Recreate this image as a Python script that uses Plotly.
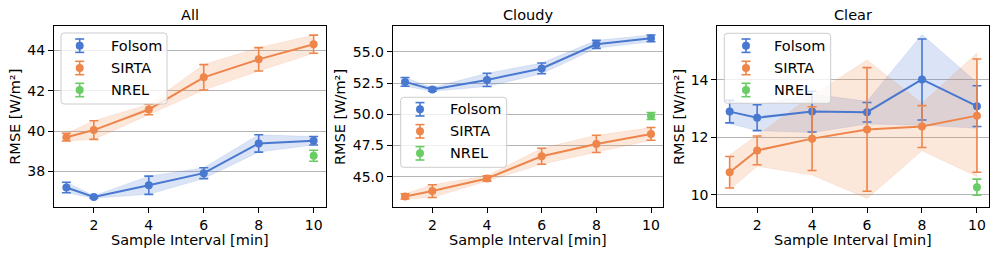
import plotly.graph_objects as go

W, H = 997, 257

intervals = [1, 2, 4, 6, 8, 10]
panel_titles = ["All", "Cloudy", "Clear"]
series_names = ["Folsom", "SIRTA", "NREL"]

# All
folsom_all = [37.21, 36.74, 37.32, 37.92, 39.39, 39.52]
folsom_all_err = [0.26, 0.06, 0.45, 0.27, 0.43, 0.21]
sirta_all = [39.70, 40.05, 41.07, 42.66, 43.55, 44.30]
sirta_all_err = [0.19, 0.46, 0.26, 0.63, 0.58, 0.45]
nrel_all = [38.78]
nrel_all_err = [0.27]

# Cloudy
folsom_cloudy = [52.60, 52.00, 52.76, 53.68, 55.61, 56.09]
folsom_cloudy_err = [0.35, 0.15, 0.53, 0.43, 0.32, 0.27]
sirta_cloudy = [43.42, 43.85, 44.86, 46.64, 47.63, 48.43]
sirta_cloudy_err = [0.21, 0.51, 0.21, 0.64, 0.69, 0.51]
nrel_cloudy = [49.87]
nrel_cloudy_err = [0.28]

# Clear
folsom_clear = [12.89, 12.68, 12.89, 12.87, 14.01, 13.08]
folsom_clear_err = [0.39, 0.45, 0.71, 0.34, 1.41, 0.71]
folsom_clear_band_lo = [12.47, 12.23, 12.16, 12.46, 12.42, 12.31]
folsom_clear_band_hi = [13.29, 13.12, 13.50, 13.25, 15.57, 13.90]
sirta_clear = [10.78, 11.54, 11.95, 12.27, 12.37, 12.75]
sirta_clear_err = [0.55, 0.50, 1.11, 2.15, 0.73, 1.97]
sirta_clear_band_lo = [10.16, 10.99, 10.68, 9.87, 11.53, 10.63]
sirta_clear_band_hi = [11.38, 12.07, 13.45, 14.69, 13.18, 14.93]
nrel_clear = [10.26]
nrel_clear_err = [0.28]
nrel_x = [10]

y_ticks = [[38, 40, 42, 44], [45.0, 47.5, 50.0, 52.5, 55.0], [10, 12, 14]]
y_ticktext = [["38", "40", "42", "44"], ["45.0", "47.5", "50.0", "52.5", "55.0"], ["10", "12", "14"]]
x_ticks = [2, 4, 6, 8, 10]

BLUE = "#4878d0"
ORANGE = "#ee854a"
GREEN = "#6acc64"
BLUE_F = "rgba(72,120,208,0.2)"
ORANGE_F = "rgba(238,133,74,0.2)"
FONT = "DejaVu Sans"
FS = 14
FSL = 14.5

panels = [
    dict(f=folsom_all, fe=folsom_all_err, s=sirta_all, se=sirta_all_err, n=nrel_all, ne=nrel_all_err,
         fb=None, sb=None, yr=[36.23, 45.2]),
    dict(f=folsom_cloudy, fe=folsom_cloudy_err, s=sirta_cloudy, se=sirta_cloudy_err, n=nrel_cloudy, ne=nrel_cloudy_err,
         fb=None, sb=None, yr=[42.55, 57.08]),
    dict(f=folsom_clear, fe=folsom_clear_err, s=sirta_clear, se=sirta_clear_err, n=nrel_clear, ne=nrel_clear_err,
         fb=(folsom_clear_band_lo, folsom_clear_band_hi), sb=(sirta_clear_band_lo, sirta_clear_band_hi), yr=[9.56, 15.87]),
]

xdom = [[54 / W, 326 / W], [392.7 / W, 663.3 / W], [717.3 / W, 989.3 / W]]
ydom = [1 - 207.3 / H, 1 - 26 / H]

fig = go.Figure()


def band(vals, errs, bandspec):
    if bandspec is None:
        lo = [v - e for v, e in zip(vals, errs)]
        hi = [v + e for v, e in zip(vals, errs)]
    else:
        lo, hi = bandspec
    return lo, hi


for i, p in enumerate(panels):
    xa = "x" if i == 0 else f"x{i+1}"
    ya = "y" if i == 0 else f"y{i+1}"
    for vals, errs, bs, fc in [(p["f"], p["fe"], p["fb"], BLUE_F), (p["s"], p["se"], p["sb"], ORANGE_F)]:
        lo, hi = band(vals, errs, bs)
        fig.add_trace(go.Scatter(
            x=intervals + intervals[::-1], y=hi + lo[::-1], fill="toself", fillcolor=fc,
            line=dict(width=0.6, color=fc), mode="lines", hoverinfo="skip", showlegend=False,
            xaxis=xa, yaxis=ya))
    for vals, errs, col in [(p["f"], p["fe"], BLUE), (p["s"], p["se"], ORANGE)]:
        fig.add_trace(go.Scatter(
            x=intervals, y=vals, mode="lines+markers",
            line=dict(color=col, width=2), marker=dict(color=col, size=8),
            error_y=dict(type="data", array=errs, visible=True, color=col, thickness=1.6, width=4.5),
            showlegend=False, xaxis=xa, yaxis=ya))
    fig.add_trace(go.Scatter(
        x=nrel_x, y=p["n"], mode="markers", marker=dict(color=GREEN, size=8),
        error_y=dict(type="data", array=p["ne"], visible=True, color=GREEN, thickness=1.6, width=4.5),
        showlegend=False, xaxis=xa, yaxis=ya))

    axis_common = dict(showline=True, mirror=True, linecolor="black", linewidth=1,
                       ticks="outside", ticklen=5, tickwidth=1, tickcolor="black",
                       tickfont=dict(family=FONT, size=FS, color="black"), zeroline=False)
    fig.layout[("xaxis" if i == 0 else f"xaxis{i+1}")] = dict(
        domain=xdom[i], anchor=ya, range=[0.55, 10.45], tickvals=x_ticks, showgrid=False, **axis_common)
    fig.layout[("yaxis" if i == 0 else f"yaxis{i+1}")] = dict(
        domain=ydom, anchor=xa, range=p["yr"], tickvals=y_ticks[i], ticktext=y_ticktext[i],
        showgrid=True, gridcolor="#b4b4b4", gridwidth=1, **axis_common)

annotations = []
shapes = []


def X(px):
    return px / W


def Y(py):
    return 1 - py / H


# titles and axis labels
title_x = [190, 528, 853]
ylab_x = [15, 339.3, 678.3]
for i in range(3):
    annotations.append(dict(x=X(title_x[i]), y=Y(15), xref="paper", yref="paper", text=panel_titles[i],
                            showarrow=False, xanchor="center", yanchor="middle",
                            font=dict(family=FONT, size=FSL, color="black")))
    cx = (xdom[i][0] + xdom[i][1]) / 2
    annotations.append(dict(x=cx, y=Y(239.5), xref="paper", yref="paper", text="Sample Interval [min]",
                            showarrow=False, xanchor="center", yanchor="middle",
                            font=dict(family=FONT, size=FSL, color="black")))
    annotations.append(dict(x=X(ylab_x[i]), y=Y(116.7), xref="paper", yref="paper", text="RMSE [W/m²]",
                            showarrow=False, xanchor="center", yanchor="middle", textangle=-90,
                            font=dict(family=FONT, size=FSL, color="black")))

# legends (box, symbol, label)
legend_boxes = [(61, 33, 167, 104), (400.7, 97.3, 506.7, 167.3), (724.3, 33.3, 830.7, 103.3)]
legend_mx = [79.7, 420, 746]
legend_tx = [109, 448.3, 772.3]
legend_ys = [[45.7, 68, 90], [109.3, 131.3, 153.3], [45.7, 68, 90]]
colors = [BLUE, ORANGE, GREEN]


def rrect(x0, y0, x1, y1, r=3):
    a, b, c, d = X(x0), Y(y0), X(x1), Y(y1)
    rx, ry = r / W, r / H
    return (f"M{a+rx},{b} L{c-rx},{b} Q{c},{b} {c},{b-ry} L{c},{d+ry} Q{c},{d} {c-rx},{d} "
            f"L{a+rx},{d} Q{a},{d} {a},{d+ry} L{a},{b-ry} Q{a},{b} {a+rx},{b} Z")


for i in range(3):
    x0, y0, x1, y1 = legend_boxes[i]
    shapes.append(dict(type="path", xref="paper", yref="paper", path=rrect(x0, y0, x1, y1),
                       fillcolor="rgba(255,255,255,0.8)", line=dict(color="#cccccc", width=1)))
    for j in range(3):
        cy = legend_ys[i][j]
        mx = legend_mx[i]
        col = colors[j]
        shapes.append(dict(type="line", xref="paper", yref="paper", x0=X(mx), x1=X(mx), y0=Y(cy - 6.7), y1=Y(cy + 6.7),
                           line=dict(color=col, width=1.6)))
        for dy in (-6.7, 6.7):
            shapes.append(dict(type="line", xref="paper", yref="paper", x0=X(mx - 4.5), x1=X(mx + 4.5),
                               y0=Y(cy + dy), y1=Y(cy + dy), line=dict(color=col, width=1.6)))
        shapes.append(dict(type="circle", xref="paper", yref="paper", x0=X(mx - 4), x1=X(mx + 4),
                           y0=Y(cy + 4), y1=Y(cy - 4), fillcolor=col, line=dict(color=col, width=0)))
        annotations.append(dict(x=X(legend_tx[i]), y=Y(cy), xref="paper", yref="paper", text=series_names[j],
                                showarrow=False, xanchor="left", yanchor="middle",
                                font=dict(family=FONT, size=FSL, color="black")))

fig.update_layout(width=W, height=H, margin=dict(l=0, r=0, t=0, b=0), plot_bgcolor="white",
                  paper_bgcolor="white", showlegend=False, annotations=annotations, shapes=shapes)
fig.write_html("out.html", config={"displayModeBar": False},
               post_script="document.body.style.margin='0';document.body.style.overflow='hidden';")
